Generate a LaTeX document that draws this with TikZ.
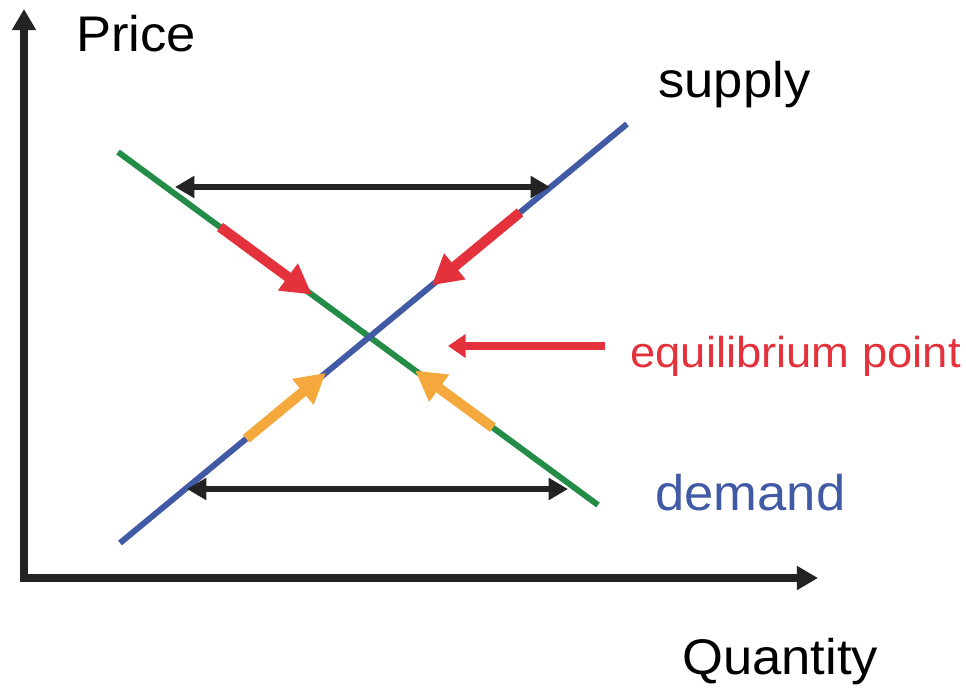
\documentclass[tikz,border=0pt]{standalone}
\usepackage{fontspec}
\setmainfont[FakeStretch=1.05]{Liberation Sans}
\usetikzlibrary{
    arrows.meta,
    calc
}
\definecolor{noir}{RGB}{35,35,35}
\definecolor{vert}{RGB}{35,140,70}
\definecolor{bleu}{RGB}{65,90,165}
\definecolor{rouge}{RGB}{228,50,60}
\definecolor{orange}{RGB}{245,168,60}

\begin{document}
\begin{tikzpicture}[x=0.02cm,y=-0.02cm,
    axes/.style={line width=4.6pt,noir,line join=miter,
        {Triangle[length=12pt,width=13pt]}-{Triangle[length=12pt,width=13pt]}},
    courbe/.style={line width=3.4pt},
    ecart/.style={line width=3.5pt,noir,
        {Triangle[length=11pt,width=12pt]}-{Triangle[length=11pt,width=12pt]}},
    fleche/.style={line width=5.8pt,-{Triangle[length=17pt,width=18pt]}},
    etiquette/.style={font=\fontsize{28.5}{32}\selectfont,anchor=base west,inner sep=0pt}]

\useasboundingbox (0,0) rectangle (966,694);

% Axes
\coordinate (Y) at (24,9);
\coordinate (O) at (24,578);
\coordinate (X) at (818,578);
\draw[axes] (Y) -- (O) -- (X);
\node[etiquette] (prix) at (76,51) {Price};
\node[etiquette] (quantite) at (682,674) {Quantity};

% Demande et offre
\coordinate (D1) at (118,152);
\coordinate (D2) at (598,505);
\coordinate (S1) at (120,543);
\coordinate (S2) at (627,124);
\draw[courbe,vert] (D1) -- (D2);
\draw[courbe,bleu] (S1) -- (S2);
\node[etiquette] (offre) at (658,97) {supply};
\node[etiquette,bleu] (demande) at (655,510) {demand};

% Ecarts en haut et en bas
\coordinate (H1) at (175,187);
\coordinate (H2) at (550,187);
\coordinate (B1) at (187,489);
\coordinate (B2) at (568,489);
\draw[ecart] (H1) -- (H2);
\draw[ecart] (B1) -- (B2);

% Retour vers l'equilibre
\draw[fleche,rouge] ($(D1)!0.2125!(D2)$) -- ($(D1)!0.404!(D2)$);
\draw[fleche,rouge] ($(S1)!0.789!(S2)$) -- ($(S1)!0.615!(S2)$);
\draw[fleche,orange] ($(S1)!0.249!(S2)$) -- ($(S1)!0.406!(S2)$);
\draw[fleche,orange] ($(D1)!0.781!(D2)$) -- ($(D1)!0.619!(D2)$);

% Point d'equilibre
\node[etiquette,rouge,font=\fontsize{24.6}{28}\selectfont] (equilibre) at (630,367) {equilibrium point};
\coordinate (E1) at (605,346);
\coordinate (E2) at (448,346);
\draw[line width=4.8pt,rouge,-{Triangle[length=10pt,width=13pt]}] (E1) -- (E2);

\end{tikzpicture}
\end{document}
